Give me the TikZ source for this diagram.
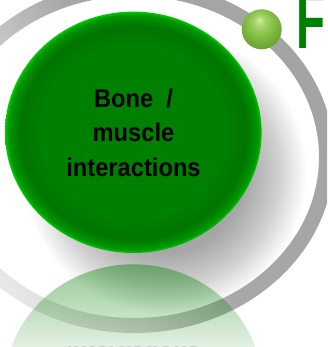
\documentclass[tikz,border=0pt]{standalone}
\usepackage{fontspec}
\setmainfont{Liberation Sans}
\usepackage{graphicx}
\usetikzlibrary{fadings}
\definecolor{gmain}{RGB}{0,128,0}
\definecolor{gdark}{RGB}{0,116,0}
\definecolor{gmid}{RGB}{0,150,0}
\definecolor{grim}{RGB}{0,200,0}
\definecolor{shA}{RGB}{160,160,160}
\definecolor{shB}{RGB}{166,166,166}
\definecolor{shC}{RGB}{208,208,208}
\definecolor{rgA}{RGB}{244,244,244}
\definecolor{rgB}{RGB}{236,236,236}
\definecolor{rgC}{RGB}{205,205,205}
\definecolor{rgD}{RGB}{168,168,168}
\definecolor{rgE}{RGB}{164,164,164}
\definecolor{spA}{RGB}{205,238,155}
\definecolor{spB}{RGB}{165,212,105}
\definecolor{spC}{RGB}{132,190,68}
\definecolor{spD}{RGB}{108,162,48}
\definecolor{spE}{RGB}{82,130,32}
\definecolor{reflgray}{RGB}{200,208,200}
\pgfdeclareradialshading{gsh}{\pgfpoint{0bp}{0bp}}{color(0bp)=(gmain); color(18bp)=(gmain); color(22bp)=(gdark); color(24.3bp)=(gmid); color(25bp)=(grim); color(50bp)=(grim)}
\pgfdeclareradialshading{shadowsh}{\pgfpoint{0bp}{0bp}}{color(0bp)=(shA); color(14bp)=(shB); color(20bp)=(shC); color(25bp)=(white); color(50bp)=(white)}
\pgfdeclarehorizontalshading{ringsh}{100bp}{color(0bp)=(rgA); color(25bp)=(rgB); color(40bp)=(rgC); color(52bp)=(rgD); color(75bp)=(rgE); color(100bp)=(rgE)}
\pgfdeclareradialshading{sphsh}{\pgfpoint{-3bp}{12bp}}{color(0bp)=(spA); color(7bp)=(spB); color(17bp)=(spC); color(29bp)=(spD); color(37bp)=(spE); color(50bp)=(spE)}
\tikzfading[name=reflfade, top color=transparent!58, bottom color=transparent!89]
\tikzset{
  lbl/.style={anchor=base, inner sep=0pt, text=black, font={\fontsize{23.7}{28}\selectfont\bfseries}},
}
\begin{document}
\begin{tikzpicture}[x=1pt,y=-1pt]
\useasboundingbox (0,0) rectangle (327,347);
\clip (0,0) rectangle (327,347);
\fill[white] (0,0) rectangle (327,347);
% soft shadow
\shade[shading=shadowsh] (165,172) circle [radius=142];
% grey ring
\shade[shading=ringsh, shading angle=30, even odd rule]
  (134,157) ellipse [x radius=200, y radius=176]
  (134,157) ellipse [x radius=185, y radius=161];
% green disc
\shade[shading=gsh] (133.3,132.3) ellipse [x radius=128.3, y radius=120.7];
\node[lbl] (l1) at (133.5,107.3) {\scalebox{1}[1.08]{Bone\ \ /}};
\node[lbl] (l2) at (133.5,141.7) {\scalebox{1}[1.08]{muscle}};
\node[lbl] (l3) at (133.5,176) {\scalebox{1}[1.08]{interactions}};
% reflection
\begin{scope}
\clip (133.3,385) ellipse [x radius=128.3, y radius=120.7];
\fill[gmain, path fading=reflfade] (0,264) rectangle (327,347);
\end{scope}
\node[anchor=north, inner sep=0pt, text=reflgray, font={\fontsize{23.7}{28}\selectfont\bfseries}] (rf) at (133.5,346) {\scalebox{1}[-1.08]{interactions}};
% small sphere
\shade[shading=sphsh] (261.7,29.3) circle [radius=20];
% title letter
\node[anchor=base west, inner sep=0pt, text=gmain, font={\fontsize{83}{83}\selectfont\bfseries}] (F) at (295.9,49) {\scalebox{0.57}[1]{F}};
\end{tikzpicture}
\end{document}
